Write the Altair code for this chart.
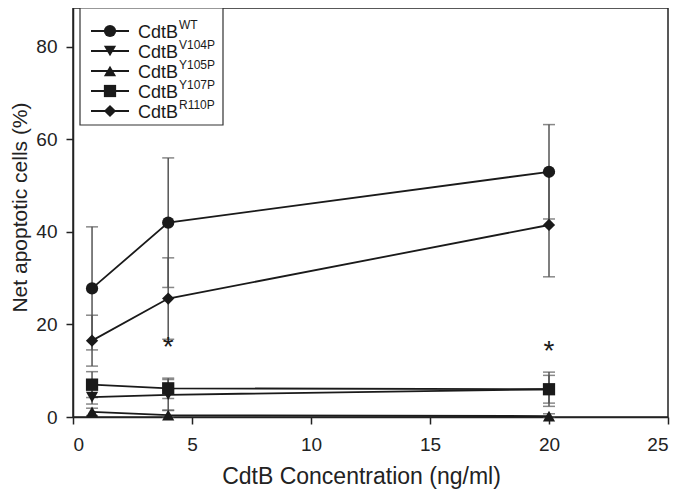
import altair as alt
import pandas as pd

# ---- data ----
conc = [0.8, 4, 20]
series = ["WT", "V104P", "Y105P", "Y107P", "R110P"]
shapes = ["circle", "triangle-down", "triangle-up", "square", "diamond"]
mean_wt = [27.8, 42.0, 53.0]
err_wt = [13.3, 14.0, 10.2]
mean_v104p = [4.3, 4.8, 6.0]
err_v104p = [1.5, 3.3, 3.0]
mean_y105p = [1.1, 0.4, 0.2]
err_y105p = [0.8, 1.0, 0.5]
mean_y107p = [7.0, 6.2, 6.0]
err_y107p = [2.8, 2.2, 3.7]
mean_r110p = [16.5, 25.6, 41.5]
err_r110p = [5.5, 8.8, 11.2]
star_x = [4, 20]
star_y = [16.4, 15.6]
x_ticks = [0, 5, 10, 15, 20, 25]
y_ticks = [0, 20, 40, 60, 80]

means = [mean_wt, mean_v104p, mean_y105p, mean_y107p, mean_r110p]
errs = [err_wt, err_v104p, err_y105p, err_y107p, err_r110p]

rows = []
for s, m, e in zip(series, means, errs):
    for x, mv, ev in zip(conc, m, e):
        rows.append({"series": s, "x": x, "y": mv, "lo": max(mv - ev, 0), "hi": mv + ev})
df = pd.DataFrame(rows)

caps = pd.concat([
    df[["series", "x", "lo"]].rename(columns={"lo": "v"}),
    df[["series", "x", "hi"]].rename(columns={"hi": "v"}),
])

stars = pd.DataFrame({"x": star_x, "y": star_y, "t": ["*", "*"]})

INK = "#1a1a1a"
FONT = "Liberation Sans"

xs = alt.Scale(domain=[0, 25], nice=False)
ys = alt.Scale(domain=[0, 88.4], nice=False)
shape_scale = alt.Scale(domain=series, range=shapes)

X = alt.X("x:Q", scale=xs,
          axis=alt.Axis(values=x_ticks, title="CdtB Concentration (ng/ml)", format="d",
                        titleX=288, titleFontSize=23))
Y = alt.Y("y:Q", scale=ys,
          axis=alt.Axis(values=y_ticks, title="Net apoptotic cells (%)", format="d",
                        titleY=199, titleFontSize=21))

err_rule = alt.Chart(df).mark_rule(color="#555555", strokeWidth=1.5).encode(
    x=X, y=alt.Y("lo:Q", scale=ys), y2="hi:Q")
err_caps = alt.Chart(caps).mark_tick(color="#555555", thickness=1.5, size=12,
                                     orient="horizontal").encode(
    x=X, y=alt.Y("v:Q", scale=ys))
lines = alt.Chart(df).mark_line(color=INK, strokeWidth=1.8).encode(
    x=X, y=Y, detail="series:N")
points = alt.Chart(df).mark_point(filled=True, color=INK, opacity=1, size=150).encode(
    x=X, y=Y, shape=alt.Shape("series:N", scale=shape_scale, legend=None))
star_marks = alt.Chart(stars).mark_text(fontSize=28, font=FONT, color=INK,
                                        baseline="middle", dy=7).encode(
    x=X, y=Y, text="t:N")

# ---- hand-drawn legend (pixel layout inside plot area) ----
leg = pd.DataFrame({"series": series, "i": list(range(len(series)))})
leg_base = alt.Chart(leg).transform_calculate(
    py="23 + 20*datum.i", lx0="18", lx1="56", mx="37", tx="65", sx="106")
leg_box = alt.Chart(pd.DataFrame({"a": [0]})).mark_rect(
    fill="white", stroke="#333333", strokeWidth=1.2).encode(
    x=alt.value(7), x2=alt.value(150), y=alt.value(0), y2=alt.value(117))
leg_line = leg_base.mark_rule(color=INK, strokeWidth=1.8).encode(
    x=alt.X("lx0:Q", scale=None), x2="lx1:Q", y=alt.Y("py:Q", scale=None))
leg_pt = leg_base.mark_point(filled=True, color=INK, opacity=1, size=150).encode(
    x=alt.X("mx:Q", scale=None), y=alt.Y("py:Q", scale=None),
    shape=alt.Shape("series:N", scale=shape_scale, legend=None))
leg_txt = leg_base.mark_text(align="left", baseline="middle", fontSize=18, font=FONT,
                             color=INK, text="CdtB", dy=2).encode(
    x=alt.X("tx:Q", scale=None), y=alt.Y("py:Q", scale=None))
leg_sup = leg_base.mark_text(align="left", baseline="middle", fontSize=12, font=FONT,
                             color=INK, dy=-6).encode(
    x=alt.X("sx:Q", scale=None), y=alt.Y("py:Q", scale=None), text="series:N")

chart = alt.layer(
    err_rule, err_caps, lines, points, star_marks,
    leg_box, leg_line, leg_pt, leg_txt, leg_sup
).properties(
    width=595, height=409,
    autosize=alt.AutoSizeParams(type="none"),
    padding={"left": 65, "top": 0, "right": 4, "bottom": 72},
).configure_view(
    stroke="#222222", strokeWidth=1.5
).configure_axis(
    grid=False, domainColor="#222222", domainWidth=1.5,
    tickColor="#222222", tickWidth=1.5, tickSize=7,
    labelFont=FONT, labelFontSize=19, labelColor="#222222",
    titleFont=FONT, titleColor="#222222", titleFontWeight="normal",
).configure_axisY(titlePadding=5, labelPadding=9).configure_axisX(titlePadding=11, labelPadding=11)

chart.save("out.html", embed_options={"renderer": "svg", "actions": False})
